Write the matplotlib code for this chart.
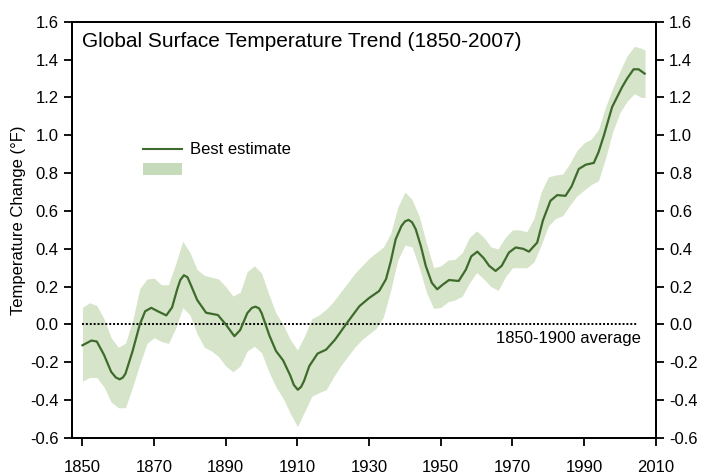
# IMPORT LIBRARY
import matplotlib
matplotlib.use("Agg")
import matplotlib.pyplot as plt
import numpy as np

plt.rcParams["font.family"] = ["Liberation Sans", "DejaVu Sans"]
plt.rcParams["axes.unicode_minus"] = False

# DATA
best_years = [1850, 1852.5, 1854, 1856, 1858, 1859.3, 1860.4, 1861.3, 1862, 1864,
              1866, 1867.5, 1869.2, 1871, 1873.4, 1875, 1876.5, 1877.3, 1878.3, 1879.3,
              1880, 1882, 1884.5, 1887.8, 1890, 1892.4, 1894, 1896, 1897.3, 1898.3,
              1899.3, 1900, 1902.2, 1904, 1906, 1908, 1909, 1910.1, 1911, 1911.8,
              1913.3, 1915.6, 1918, 1920.5, 1923.5, 1927.3, 1930, 1932.8, 1934.7, 1936,
              1937.4, 1939, 1940, 1941, 1942, 1943, 1944.5, 1945.8, 1947.5, 1949,
              1950.5, 1952.3, 1955, 1957, 1958.5, 1960.2, 1962, 1963.5, 1965.3, 1967,
              1969, 1970.9, 1973, 1974.6, 1976.9, 1978.5, 1980.6, 1982.5, 1984.8, 1986.5,
              1988.5, 1990.5, 1992.7, 1994, 1995.5, 1997.8, 2000.6, 2002, 2003.8, 2005.2,
              2006.9]
best_values = [-0.11, -0.085, -0.09, -0.16, -0.25, -0.28, -0.29, -0.28, -0.26, -0.14,
               0.0, 0.07, 0.088, 0.07, 0.048, 0.09, 0.19, 0.235, 0.26, 0.25,
               0.22, 0.13, 0.062, 0.05, 0.0, -0.062, -0.03, 0.06, 0.088, 0.094,
               0.085, 0.06, -0.06, -0.14, -0.19, -0.27, -0.32, -0.345, -0.33, -0.30,
               -0.22, -0.154, -0.133, -0.08, 0.0, 0.097, 0.14, 0.177, 0.239, 0.33,
               0.45, 0.52, 0.545, 0.553, 0.54, 0.504, 0.41, 0.31, 0.22, 0.186,
               0.21, 0.235, 0.23, 0.29, 0.36, 0.385, 0.35, 0.31, 0.283, 0.31,
               0.38, 0.407, 0.40, 0.385, 0.433, 0.55, 0.654, 0.684, 0.68, 0.73,
               0.822, 0.845, 0.854, 0.91, 0.998, 1.149, 1.255, 1.30, 1.349, 1.349,
               1.326]

band_years = [1850, 1852, 1854, 1856, 1858, 1860, 1862, 1864, 1866, 1868,
              1870, 1872, 1874, 1876, 1878, 1880, 1882, 1884, 1886, 1888,
              1890, 1892, 1894, 1896, 1898, 1900, 1902, 1904, 1906, 1908,
              1910, 1912, 1914, 1916, 1918, 1920, 1922, 1924, 1926, 1928,
              1930, 1932, 1934, 1936, 1938, 1940, 1942, 1944, 1946, 1948,
              1950, 1952, 1954, 1956, 1958, 1960, 1962, 1964, 1966, 1968,
              1970, 1972, 1974, 1976, 1978, 1980, 1982, 1984, 1986, 1988,
              1990, 1992, 1994, 1996, 1998, 2000, 2002, 2004, 2006, 2007]
band_upper = [0.09, 0.115, 0.10, 0.03, -0.07, -0.12, -0.10, 0.02, 0.19, 0.24,
              0.245, 0.21, 0.21, 0.32, 0.44, 0.38, 0.29, 0.26, 0.25, 0.24,
              0.20, 0.15, 0.17, 0.28, 0.31, 0.27, 0.16, 0.06, 0.0, -0.08,
              -0.135, -0.06, 0.03, 0.05, 0.08, 0.12, 0.17, 0.22, 0.27, 0.31,
              0.35, 0.38, 0.41, 0.48, 0.62, 0.70, 0.66, 0.57, 0.43, 0.30,
              0.31, 0.34, 0.345, 0.38, 0.46, 0.495, 0.46, 0.41, 0.40, 0.46,
              0.50, 0.50, 0.49, 0.56, 0.70, 0.78, 0.79, 0.795, 0.85, 0.92,
              0.96, 0.98, 1.03, 1.15, 1.25, 1.34, 1.42, 1.47, 1.46, 1.45]
band_lower = [-0.30, -0.28, -0.28, -0.33, -0.41, -0.44, -0.44, -0.33, -0.21, -0.10,
              -0.07, -0.09, -0.10, -0.02, 0.09, 0.05, -0.05, -0.12, -0.14, -0.17,
              -0.22, -0.25, -0.22, -0.14, -0.115, -0.15, -0.25, -0.33, -0.39, -0.47,
              -0.54, -0.46, -0.38, -0.36, -0.345, -0.28, -0.22, -0.17, -0.12, -0.08,
              -0.05, -0.02, 0.04, 0.18, 0.34, 0.42, 0.41, 0.30, 0.17, 0.085,
              0.09, 0.12, 0.13, 0.15, 0.22, 0.275, 0.24, 0.20, 0.18, 0.25,
              0.30, 0.30, 0.30, 0.33, 0.42, 0.52, 0.56, 0.575, 0.63, 0.68,
              0.71, 0.74, 0.76, 0.88, 1.02, 1.12, 1.18, 1.22, 1.20, 1.20]

x_ticks = [1850, 1870, 1890, 1910, 1930, 1950, 1970, 1990, 2010]
y_ticks = [-0.6, -0.4, -0.2, 0.0, 0.2, 0.4, 0.6, 0.8, 1.0, 1.2, 1.4, 1.6]
y_ticklabels = [f"{v:.1f}" for v in y_ticks]

LINE_COLOR = "#3e6b2c"
BAND_COLOR = "#d6e4c9"


def execute():
    fig = plt.figure(figsize=(7.01, 4.74), dpi=100)
    ax = fig.add_axes([0.1023, 0.076, 0.8332, 0.878])

    ax.fill_between(band_years, band_lower, band_upper, color=BAND_COLOR,
                    linewidth=0, zorder=1)
    ax.plot(best_years, best_values, color=LINE_COLOR, linewidth=1.6, zorder=3,
            solid_joinstyle="round")
    ax.plot([1850, 2005], [0, 0], color="black", linestyle=(0, (1, 1)),
            linewidth=1.4, zorder=2)

    ax.set_xlim(1847, 2010)
    ax.set_ylim(-0.6, 1.6)
    ax.set_xticks(x_ticks)
    ax.set_yticks(y_ticks)
    ax.set_yticklabels(y_ticklabels)
    ax.tick_params(axis="y", direction="out", length=5.5, width=1.3,
                   labelsize=12, pad=4)
    ax.tick_params(axis="x", direction="out", length=5.5, width=1.3,
                   labelsize=12, pad=10)
    for s in ax.spines.values():
        s.set_linewidth(1.3)

    ax2 = ax.twinx()
    ax2.set_ylim(-0.6, 1.6)
    ax2.set_yticks(y_ticks)
    ax2.set_yticklabels(y_ticklabels)
    ax2.tick_params(axis="y", direction="out", length=5.5, width=1.3,
                    labelsize=12, pad=4)
    for s in ax2.spines.values():
        s.set_linewidth(1.3)

    ax.set_ylabel("Temperature Change (°F)", fontsize=12)
    ax.yaxis.set_label_coords(-0.078, 0.524)
    ax.text(0.018, 0.952, "Global Surface Temperature Trend (1850-2007)",
            transform=ax.transAxes, fontsize=15, va="center", ha="left")
    ax.text(2005.7, -0.035, "1850-1900 average", fontsize=12, ha="right", va="top")

    # legend
    h_line, = ax.plot([], [], color=LINE_COLOR, linewidth=1.5)
    h_band = plt.Rectangle((0, 0), 1, 1, color="#c6dbb9", linewidth=0)
    ax.legend([h_line, h_band], ["Best estimate", ""], loc="upper left",
              bbox_to_anchor=(0.122, 0.71), frameon=False, fontsize=12,
              handlelength=2.35, handleheight=0.72, handletextpad=0.5,
              labelspacing=0.3, borderpad=0, borderaxespad=0)

    fig.savefig("out.png", dpi=100)


# EXECUTE
if __name__ == "__main__":
    execute()
